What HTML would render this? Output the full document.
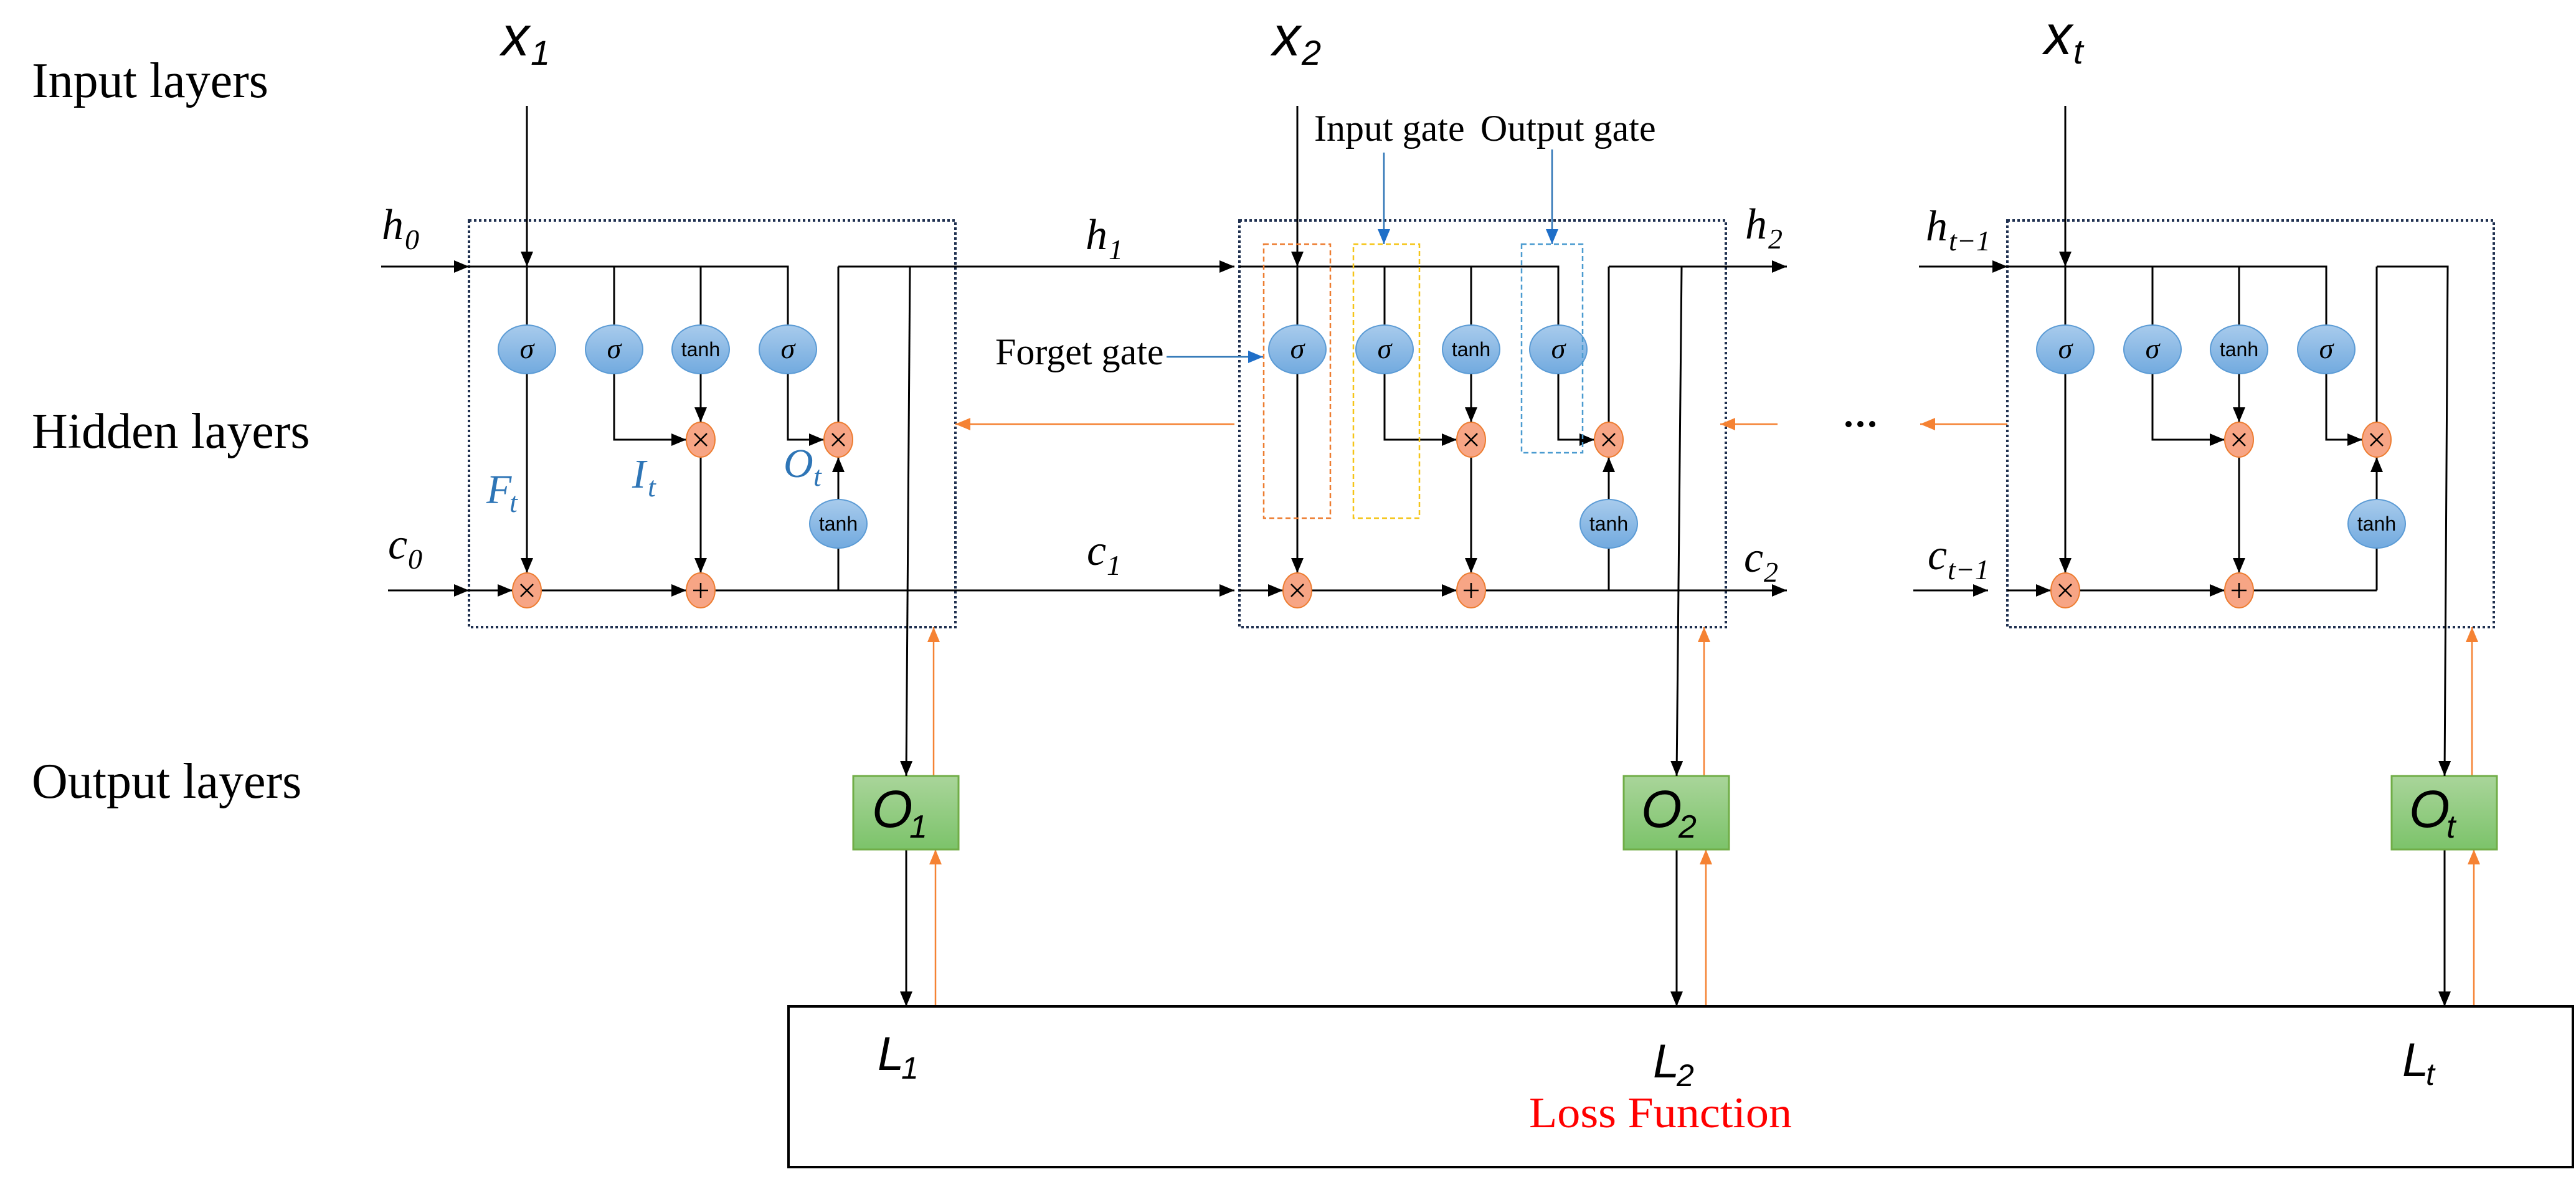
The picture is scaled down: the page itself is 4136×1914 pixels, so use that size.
<!DOCTYPE html>
<html><head><meta charset="utf-8"><style>html,body{margin:0;padding:0;background:#fff}svg{display:block}</style></head>
<body>
<svg width="4136" height="1914" viewBox="0 0 4136 1914" xmlns="http://www.w3.org/2000/svg">
<defs>
<marker id="a" markerUnits="userSpaceOnUse" markerWidth="26" markerHeight="22" refX="24" refY="10" orient="auto"><path d="M0,0 L24,10 L0,20 z" fill="#000"/></marker>
<marker id="o" markerUnits="userSpaceOnUse" markerWidth="26" markerHeight="22" refX="24" refY="10" orient="auto"><path d="M0,0 L24,10 L0,20 z" fill="#f58233"/></marker>
<marker id="b" markerUnits="userSpaceOnUse" markerWidth="26" markerHeight="22" refX="24" refY="10" orient="auto"><path d="M0,0 L24,10 L0,20 z" fill="#1f6fc8"/></marker>
<linearGradient id="eg" x1="0" y1="0" x2="0" y2="1"><stop offset="0" stop-color="#a8cbec"/><stop offset="1" stop-color="#72aadf"/></linearGradient>
<linearGradient id="gg" x1="0" y1="0" x2="0" y2="1"><stop offset="0" stop-color="#a9d59a"/><stop offset="1" stop-color="#7cc36a"/></linearGradient>
<g id="cell" fill="none" stroke="#000" stroke-width="3">
  <rect x="753" y="354" width="781" height="653" stroke="#1f3050" stroke-width="4" stroke-dasharray="4 4"/>
  <line x1="846" y1="170" x2="846" y2="428" marker-end="url(#a)"/>
  <polyline points="753,428 1265,428 1265,522"/>
  <line x1="986" y1="428" x2="986" y2="522"/>
  <line x1="1125" y1="428" x2="1125" y2="522"/>
  <line x1="846" y1="428" x2="846" y2="522"/>
  <line x1="846" y1="600" x2="846" y2="920" marker-end="url(#a)"/>
  <polyline points="986,600 986,706 1102,706" marker-end="url(#a)"/>
  <line x1="1125" y1="600" x2="1125" y2="678" marker-end="url(#a)"/>
  <polyline points="1265,600 1265,706 1323,706" marker-end="url(#a)"/>
  <line x1="1125" y1="734" x2="1125" y2="920" marker-end="url(#a)"/>
  <line x1="753" y1="948" x2="823" y2="948" marker-end="url(#a)"/>
  <line x1="869" y1="948" x2="1102" y2="948" marker-end="url(#a)"/>
  <line x1="1148" y1="948" x2="1346" y2="948"/>
  <line x1="1346" y1="948" x2="1346" y2="880"/>
  <line x1="1346" y1="802" x2="1346" y2="734" marker-end="url(#a)"/>
  <line x1="1346" y1="678" x2="1346" y2="428"/>
  <line x1="1455" y1="1364" x2="1455" y2="1616" marker-end="url(#a)"/>
  <line x1="1502" y1="1616" x2="1502" y2="1364" stroke="#f58233" stroke-width="2.5" marker-end="url(#o)"/>
  <line x1="1499" y1="1246" x2="1499" y2="1007" stroke="#f58233" stroke-width="2.5" marker-end="url(#o)"/>
  <g stroke="#5b9bd5" stroke-width="2" fill="url(#eg)">
    <ellipse cx="846" cy="561" rx="46" ry="39"/><ellipse cx="986" cy="561" rx="46" ry="39"/>
    <ellipse cx="1125" cy="561" rx="46" ry="39"/><ellipse cx="1265" cy="561" rx="46" ry="39"/>
    <ellipse cx="1346" cy="841" rx="46" ry="39"/>
  </g>
  <g stroke="#ed7d31" stroke-width="2" fill="#f7a585">
    <ellipse cx="1125" cy="706" rx="23" ry="28"/><ellipse cx="1346" cy="706" rx="23" ry="28"/>
    <ellipse cx="846" cy="948" rx="23" ry="28"/><ellipse cx="1125" cy="948" rx="23" ry="28"/>
  </g>
  <rect x="1370" y="1246" width="169" height="118" fill="url(#gg)" stroke="#70ad47" stroke-width="3"/>
  <g stroke="none" fill="#000" font-family="Liberation Serif, serif" font-style="italic" font-size="46" text-anchor="middle">
    <text x="846" y="575">σ</text><text x="986" y="575">σ</text><text x="1265" y="575">σ</text>
  </g>
  <g stroke="none" fill="#000" font-family="Liberation Sans, sans-serif" font-size="32" text-anchor="middle">
    <text x="1125" y="572">tanh</text><text x="1346" y="852">tanh</text>
  </g>
  <g stroke="#000" stroke-width="2.5">
    <path d="M1115,696 l20,20 M1135,696 l-20,20 M1336,696 l20,20 M1356,696 l-20,20 M836,938 l20,20 M856,938 l-20,20 M1125,936 v24 M1113,948 h24"/>
  </g>
</g>
</defs>

<rect width="4136" height="1914" fill="#fff"/>

<g font-family="Liberation Serif, serif" font-size="80" fill="#000">
<text x="51" y="156">Input layers</text>
<text x="51" y="719">Hidden layers</text>
<text x="51" y="1281">Output layers</text>
</g>

<use href="#cell"/>
<use href="#cell" transform="translate(1237,0)"/>
<use href="#cell" transform="translate(2470,0)"/>

<g fill="none" stroke="#000" stroke-width="3">
  <line x1="612" y1="428" x2="753" y2="428" marker-end="url(#a)"/>
  <line x1="623" y1="948" x2="753" y2="948" marker-end="url(#a)"/>
  <line x1="1346" y1="428" x2="1982" y2="428" marker-end="url(#a)"/>
  <line x1="1346" y1="948" x2="1982" y2="948" marker-end="url(#a)"/>
  <line x1="1461" y1="428" x2="1455" y2="1246" marker-end="url(#a)"/>
  <line x1="2583" y1="428" x2="2869" y2="428" marker-end="url(#a)"/>
  <line x1="2583" y1="948" x2="2869" y2="948" marker-end="url(#a)"/>
  <line x1="2700" y1="428" x2="2692" y2="1246" marker-end="url(#a)"/>
  <line x1="3081" y1="428" x2="3223" y2="428" marker-end="url(#a)"/>
  <line x1="3072" y1="948" x2="3192" y2="948" marker-end="url(#a)"/>
  <polyline points="3816,428 3930,428 3925,1246" marker-end="url(#a)"/>
  <g stroke="#f58233" stroke-width="2.5">
    <line x1="1982" y1="681" x2="1534" y2="681" marker-end="url(#o)"/>
    <line x1="2854" y1="681" x2="2762" y2="681" marker-end="url(#o)"/>
    <line x1="3223" y1="681" x2="3083" y2="681" marker-end="url(#o)"/>
  </g>
  <rect x="2029" y="392" width="107" height="440" stroke="#ed7d31" stroke-width="2.5" stroke-dasharray="8 5"/>
  <rect x="2173" y="392" width="106" height="440" stroke="#f5c518" stroke-width="2.5" stroke-dasharray="8 5"/>
  <rect x="2443" y="392" width="98" height="335" stroke="#4a9bd0" stroke-width="2.5" stroke-dasharray="8 5"/>
  <g stroke="#2e75b6" stroke-width="2.5">
    <line x1="2222" y1="245" x2="2222" y2="392" marker-end="url(#b)"/>
    <line x1="2492" y1="240" x2="2492" y2="392" marker-end="url(#b)"/>
    <line x1="1873" y1="573" x2="2028" y2="573" marker-end="url(#b)"/>
  </g>
  <rect x="1266" y="1616" width="2865" height="258" stroke-width="4"/>
</g>

<g fill="#000">
  <circle cx="2968" cy="681" r="5"/><circle cx="2987" cy="681" r="5"/><circle cx="3006" cy="681" r="5"/>
</g>

<g font-family="Liberation Serif, serif" font-size="60" fill="#000">
<text x="2110" y="226">Input gate</text>
<text x="2377" y="226">Output gate</text>
<text x="1598" y="585">Forget gate</text>
</g>

<g font-family="Liberation Sans, sans-serif" font-style="italic" fill="#000">
<text x="805" y="89" font-size="90">x</text><text x="852" y="104" font-size="56">1</text>
<text x="2043" y="89" font-size="90">x</text><text x="2090" y="104" font-size="56">2</text>
<text x="3282" y="87" font-size="90">x</text><text x="3329" y="102" font-size="56">t</text>
</g>

<g font-family="Liberation Serif, serif" font-style="italic" fill="#000">
<text x="613" y="384" font-size="70">h</text><text x="650" y="400" font-size="46">0</text>
<text x="1743" y="400" font-size="70">h</text><text x="1780" y="416" font-size="46">1</text>
<text x="2802" y="383" font-size="70">h</text><text x="2839" y="399" font-size="46">2</text>
<text x="3092" y="386" font-size="70">h</text><text x="3129" y="402" font-size="46">t−1</text>
<text x="623" y="897" font-size="70">c</text><text x="655" y="913" font-size="46">0</text>
<text x="1745" y="907" font-size="70">c</text><text x="1777" y="923" font-size="46">1</text>
<text x="2800" y="918" font-size="70">c</text><text x="2832" y="934" font-size="46">2</text>
<text x="3095" y="914" font-size="70">c</text><text x="3127" y="930" font-size="46">t−1</text>
</g>

<g font-family="Liberation Serif, serif" font-style="italic" fill="#2e75b6">
<text x="781" y="808" font-size="66">F</text><text x="818" y="822" font-size="46">t</text>
<text x="1015" y="783" font-size="66">I</text><text x="1040" y="797" font-size="46">t</text>
<text x="1258" y="766" font-size="66">O</text><text x="1306" y="780" font-size="46">t</text>
</g>

<g font-family="Liberation Sans, sans-serif" font-style="italic" fill="#000">
<text x="1400" y="1328" font-size="84">O</text><text x="1460" y="1345" font-size="52">1</text>
<text x="2635" y="1328" font-size="84">O</text><text x="2695" y="1345" font-size="52">2</text>
<text x="3868" y="1328" font-size="84">O</text><text x="3928" y="1345" font-size="52">t</text>
<text x="1409" y="1718" font-size="76">L</text><text x="1447" y="1732" font-size="50">1</text>
<text x="2654" y="1730" font-size="76">L</text><text x="2692" y="1744" font-size="50">2</text>
<text x="3857" y="1728" font-size="76">L</text><text x="3895" y="1742" font-size="50">t</text>
</g>

<text x="2455" y="1810" font-family="Liberation Serif, serif" font-size="70" fill="#ff0000" textLength="422" lengthAdjust="spacingAndGlyphs">Loss Function</text>
</svg>
</body></html>
